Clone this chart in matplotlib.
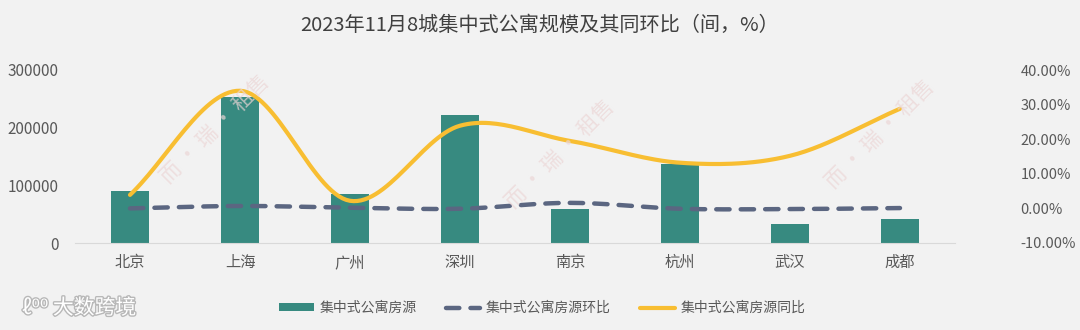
import numpy as np
import matplotlib
matplotlib.use("Agg")
import matplotlib.pyplot as plt
from matplotlib.ticker import FuncFormatter
import matplotlib.patheffects as pe

plt.rcParams['font.family'] = ['Noto Sans CJK SC', 'DejaVu Sans']

cities = ['北京', '上海', '广州', '深圳', '南京', '杭州', '武汉', '成都']
units = [91000, 253000, 85000, 222000, 59000, 137000, 33000, 42000]
mom = [0.0, 0.7, 0.2, -0.1, 1.6, -0.1, -0.2, 0.1]      # 环比 %
yoy = [3.9, 34.0, 2.2, 23.9, 19.5, 13.2, 15.2, 28.8]   # 同比 %

bg = '#f2f2f2'
bar_c = '#378a80'
mom_c = '#5b6681'
yoy_c = '#f8be32'
txt_c = '#595959'


def smooth(xs, ys, n=30):
    # Catmull-Rom curve through the points, like Excel's smoothed line
    p = np.column_stack([xs, ys]).astype(float)
    p = np.vstack([2 * p[0] - p[1], p, 2 * p[-1] - p[-2]])
    out = []
    for i in range(1, len(p) - 2):
        p0, p1, p2, p3 = p[i - 1], p[i], p[i + 1], p[i + 2]
        t = np.linspace(0, 1, n, endpoint=(i == len(p) - 3))[:, None]
        seg = 0.5 * ((2 * p1) + (-p0 + p2) * t + (2 * p0 - 5 * p1 + 4 * p2 - p3) * t ** 2
                     + (-p0 + 3 * p1 - 3 * p2 + p3) * t ** 3)
        out.append(seg)
    out = np.vstack(out)
    return out[:, 0], out[:, 1]


fig = plt.figure(figsize=(10.8, 3.3), dpi=100, facecolor=bg)
ax = fig.add_axes([75 / 1080, 1 - 243 / 330, 880 / 1080, 173 / 330])
ax.set_facecolor(bg)
x = np.arange(len(cities))

bars = ax.bar(x, units, width=0.34, color=bar_c, zorder=2, label='集中式公寓房源')
ax.set_xlim(-0.5, len(cities) - 0.5)
ax.set_ylim(0, 300000)
ax.set_yticks([0, 100000, 200000, 300000])
ax.set_yticklabels(['0', '100000', '200000', '300000'])
ax.set_xticks(x)
ax.set_xticklabels(cities)
for s in ['top', 'right', 'left']:
    ax.spines[s].set_visible(False)
ax.spines['bottom'].set_color('#d9d9d9')
ax.tick_params(axis='both', length=0, colors=txt_c, labelsize=11)
ax.tick_params(axis='x', pad=8)
ax.tick_params(axis='y', pad=12)

ax2 = ax.twinx()
ax2.set_ylim(-10, 40)
ax2.set_yticks([-10, 0, 10, 20, 30, 40])
ax2.yaxis.set_major_formatter(FuncFormatter(lambda v, _: f'{v:.2f}%'))
for s in ax2.spines.values():
    s.set_visible(False)
ax2.tick_params(axis='y', length=0, colors=txt_c, labelsize=10.5, pad=47)

sx, sy = smooth(x, mom)
l1, = ax2.plot(sx, sy, color=mom_c, lw=3.2, ls=(0, (3, 2.5)), dash_capstyle='round',
               label='集中式公寓房源环比', zorder=3)
sx, sy = smooth(x, yoy)
l2, = ax2.plot(sx, sy, color=yoy_c, lw=3, solid_capstyle='round',
               label='集中式公寓房源同比', zorder=4)

fig.text(0.5, 1 - 25 / 330, '2023年11月8城集中式公寓规模及其同环比（间，%）',
         ha='center', va='center', fontsize=14.5, color='#404040')

fig.legend([bars, l1, l2], ['集中式公寓房源', '集中式公寓房源环比', '集中式公寓房源同比'],
           loc='center', bbox_to_anchor=(542 / 1080, 1 - 308 / 330), ncol=3, frameon=False,
           fontsize=10, labelcolor=txt_c, handlelength=2.5, handleheight=0.5,
           columnspacing=2.1, handletextpad=0.4)

# watermarks
for wx, wy in [(215, 130), (560, 155), (880, 135)]:
    fig.text(wx / 1080, 1 - wy / 330, '而 · 瑞 · 租售', rotation=45, ha='center', va='center',
             fontsize=15, color='#ecd6d6', alpha=0.7, zorder=0)
fig.text(22 / 1080, 1 - 308 / 330, 'ℓ⁰⁰ 大数跨境', ha='left', va='center', fontsize=15,
         color='white', path_effects=[pe.withStroke(linewidth=2, foreground='#b8b8b8')])

fig.savefig('out.png', dpi=100, facecolor=bg)
